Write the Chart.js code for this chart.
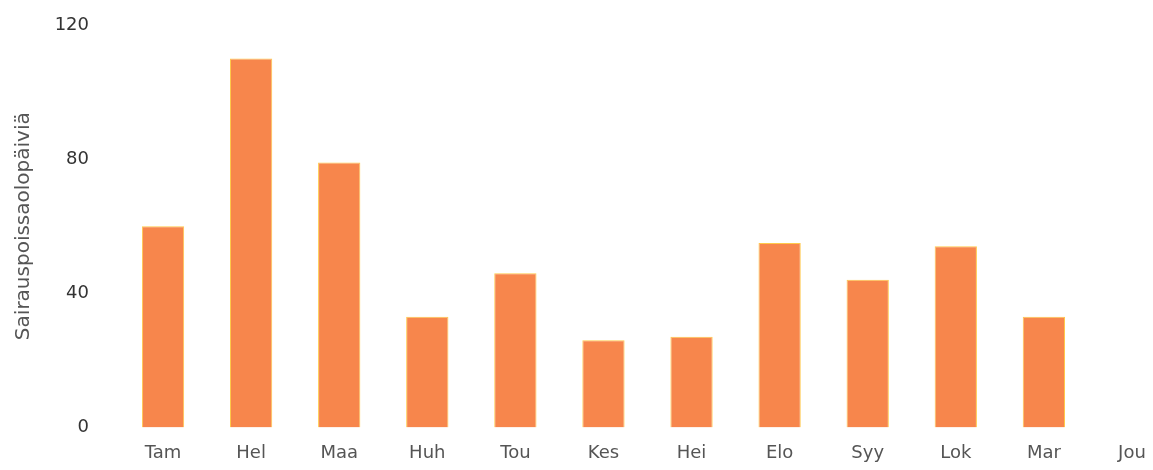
<!DOCTYPE html>
<html>
<head>
<meta charset="utf-8">
<script src="https://cdn.jsdelivr.net/npm/chart.js@4/dist/chart.umd.min.js"></script>
<style>
    html, body { margin: 0; padding: 0; background: #fff; overflow: hidden; }
    #wrap { width: 1153px; height: 470px; overflow: hidden; }
</style>
</head>
<body>
<div id="wrap">
    <canvas id="myChart" width="1180" height="477"></canvas>
</div>
<script>
// kuukaudet ja sairauspoissaolopäivät
var months = ["Tam", "Hel", "Maa", "Huh", "Tou", "Kes", "Hei", "Elo", "Syy", "Lok", "Mar", "Jou"];
var sickDays = [60, 110, 79, 33, 46, 26, 27, 55, 44, 54, 33, null];
var yTicks = [0, 40, 80, 120];

var ctx = document.getElementById("myChart").getContext("2d");

var chart = new Chart(ctx, {
    type: "bar",
    data: {
        labels: months,
        datasets: [{
            label: "Sairauspoissaolopäiviä",
            data: sickDays,
            backgroundColor: "#f7864c",
            borderColor: "#ffc94a",
            borderWidth: 1,
            barPercentage: 0.48,
            categoryPercentage: 1
        }]
    },
    options: {
        responsive: false,
        animation: false,
        layout: {
            padding: { top: 25, left: 3, right: 4, bottom: 6 }
        },
        plugins: {
            legend: { display: false },
            tooltip: { enabled: false }
        },
        scales: {
            x: {
                grid: { display: false },
                border: { display: false },
                ticks: {
                    color: "#555",
                    padding: 7,
                    font: { family: "DejaVu Sans", size: 18 }
                }
            },
            y: {
                min: 0,
                max: 120,
                afterBuildTicks: function (scale) {
                    scale.ticks = yTicks.map(function (v) { return { value: v }; });
                },
                afterFit: function (scale) {
                    scale.width = 116;
                    scale.paddingTop = 0;
                    scale.paddingBottom = 0;
                },
                grid: { display: false },
                border: { display: false },
                ticks: {
                    color: "#333",
                    padding: 22,
                    font: { family: "DejaVu Sans", size: 18 }
                },
                title: {
                    display: true,
                    text: "Sairauspoissaolopäiviä",
                    color: "#555",
                    padding: { top: 9, bottom: 0 },
                    font: { family: "DejaVu Sans", size: 20 }
                }
            }
        }
    }
});
</script>
</body>
</html>
